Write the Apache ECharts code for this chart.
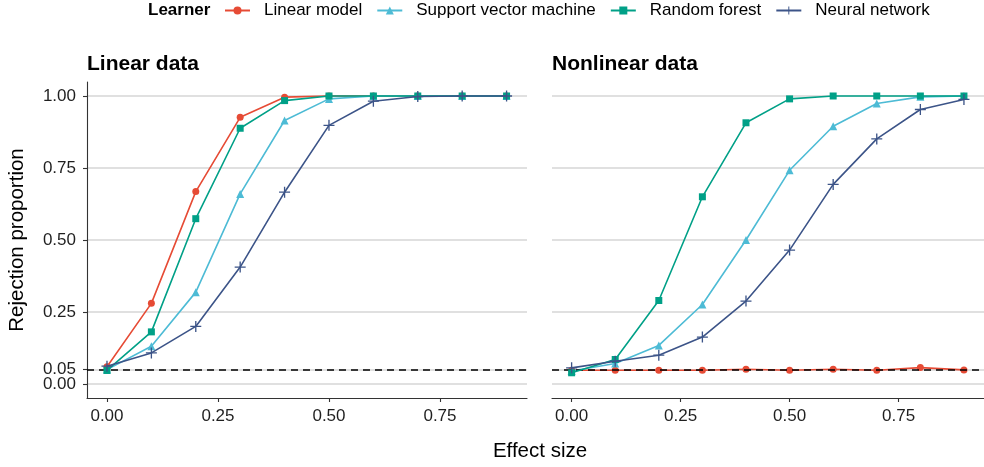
<!DOCTYPE html>
<html>
<head>
<meta charset="utf-8">
<script src="https://cdn.jsdelivr.net/npm/echarts@6/dist/echarts.min.js"></script>
<style>html,body{margin:0;padding:0;background:#fff}#c{width:984px;height:467px}</style>
</head>
<body>
<div id="c"></div>
<script>
// ---- data ----
const effectSize = [0, 0.1, 0.2, 0.3, 0.4, 0.5, 0.6, 0.7, 0.8, 0.9];
const learners = ['Linear model', 'Support vector machine', 'Random forest', 'Neural network'];
const panelTitles = ['Linear data', 'Nonlinear data'];
const xTicks = [0, 0.25, 0.5, 0.75];
const yTicks = [0, 0.05, 0.25, 0.5, 0.75, 1];
const yTicksUpper = [0.05, 0.25, 0.5, 0.75, 1];
const yTicksLower = [0];
const alphaLevel = 0.05;

const linLinearModel = [0.06, 0.28, 0.668, 0.926, 0.996, 1, 1, 1, 1, 1];
const linSVM = [0.05, 0.131, 0.319, 0.66, 0.915, 0.99, 1, 1, 1, 1];
const linRF = [0.047, 0.181, 0.574, 0.888, 0.984, 1, 1, 1, 1, 1];
const linNN = [0.062, 0.108, 0.2, 0.406, 0.666, 0.898, 0.982, 0.998, 1, 1];

const nonLinearModel = [0.048, 0.048, 0.048, 0.048, 0.051, 0.048, 0.051, 0.048, 0.057, 0.049];
const nonSVM = [0.045, 0.071, 0.134, 0.276, 0.5, 0.742, 0.895, 0.974, 0.997, 1];
const nonRF = [0.039, 0.085, 0.29, 0.65, 0.907, 0.99, 1, 1, 1, 1];
const nonNN = [0.056, 0.079, 0.1, 0.163, 0.288, 0.465, 0.693, 0.851, 0.953, 0.988];

// ---- styling ----
const FONT = '"Liberation Sans", Arial, sans-serif';
const colors = ['#E64B35', '#4DBBD5', '#00A087', '#3C5488'];
const plusPath = 'path://M0,8.8H20V11.2H0Z M8.8,0H11.2V20H8.8Z';
const symbols = ['circle', 'triangle', 'rect', plusPath];
const symSizes = [7, 8, 7, 11];
const panels = [[linLinearModel, linSVM, linRF, linNN], [nonLinearModel, nonSVM, nonRF, nonNN]];
const Y_MIN = -0.0486, Y_MAX = 1.0486;

const grids = [
  { left: 87, top: 82, width: 440, height: 316 },
  { left: 552, top: 82, width: 440, height: 316 }
];

const labelStyle = { color: '#1f1f1f', fontFamily: FONT, fontSize: 17, hideOverlap: false, formatter: v => v.toFixed(2) };

const xAxes = grids.map((g, i) => ({
  type: 'value', gridIndex: i, min: -0.045, max: 0.946,
  axisLine: { show: true, onZero: false, lineStyle: { color: '#333', width: 1.1 } },
  axisTick: { show: true, length: 4, lineStyle: { color: '#333', width: 1.1 }, customValues: xTicks },
  axisLabel: Object.assign({ show: true, customValues: xTicks, margin: 10 }, labelStyle),
  splitLine: { show: false }
}));

const yAxes = grids.map((g, i) => ({
  type: 'value', gridIndex: i, min: Y_MIN, max: Y_MAX,
  axisLine: { show: i === 0, onZero: false, lineStyle: { color: '#333', width: 1.1 } },
  axisTick: { show: i === 0, length: 4, lineStyle: { color: '#333', width: 1.1 }, customValues: yTicks },
  axisLabel: Object.assign({ show: i === 0, customValues: yTicksUpper, margin: 11 }, labelStyle),
  splitLine: { show: true, lineStyle: { color: '#d6d6d6', width: 1.5 } }
}));
// extra overlay axis on the left panel carrying the 0.00 label (avoids overlap hiding)
yAxes.push({
  type: 'value', gridIndex: 0, position: 'left', min: Y_MIN, max: Y_MAX,
  axisLine: { show: false, onZero: false },
  axisTick: { show: false, customValues: yTicksLower },
  axisLabel: Object.assign({ show: true, customValues: yTicksLower, margin: 11 }, labelStyle),
  splitLine: { show: false }
});

const series = [];
panels.forEach((panel, p) => {
  panel.forEach((vals, k) => {
    series.push({
      type: 'line', name: learners[k], xAxisIndex: p, yAxisIndex: p,
      data: effectSize.map((x, j) => [x, vals[j]]),
      symbol: symbols[k], symbolSize: symSizes[k], showSymbol: true,
      lineStyle: { color: colors[k], width: 1.6 },
      itemStyle: { color: colors[k] },
      z: 3 + k,
      animation: false
    });
  });
  series.push({
    type: 'line', xAxisIndex: p, yAxisIndex: p, data: [], z: 10,
    markLine: {
      silent: true, symbol: 'none', label: { show: false }, animation: false,
      lineStyle: { color: '#000', type: [7, 5], width: 1.7 },
      data: [{ yAxis: alphaLevel }]
    }
  });
});

const chart = echarts.init(document.getElementById('c'), null, { renderer: 'canvas' });
chart.setOption({
  animation: false,
  backgroundColor: '#fff',
  grid: grids,
  xAxis: xAxes,
  yAxis: yAxes,
  legend: {
    data: learners, left: 219, top: -3, itemWidth: 25, itemHeight: 10, itemGap: 14,
    textStyle: { fontFamily: FONT, fontSize: 17, color: '#000', padding: [0, 0, 0, 9] }
  },
  graphic: [
    { type: 'text', left: 148, top: 2, style: { text: 'Learner', font: 'bold 17px ' + FONT, fill: '#000' } },
    { type: 'text', left: 87, top: 54, style: { text: panelTitles[0], font: 'bold 21px ' + FONT, fill: '#000' } },
    { type: 'text', left: 552, top: 54, style: { text: panelTitles[1], font: 'bold 21px ' + FONT, fill: '#000' } },
    { type: 'text', x: 540, y: 451, style: { text: 'Effect size', font: '20.5px ' + FONT, fill: '#000', align: 'center', verticalAlign: 'middle' } },
    { type: 'text', x: 17, y: 240, rotation: Math.PI / 2, style: { text: 'Rejection proportion', font: '20.5px ' + FONT, fill: '#000', align: 'center', verticalAlign: 'middle' } }
  ],
  series: series
});
</script>
</body>
</html>
